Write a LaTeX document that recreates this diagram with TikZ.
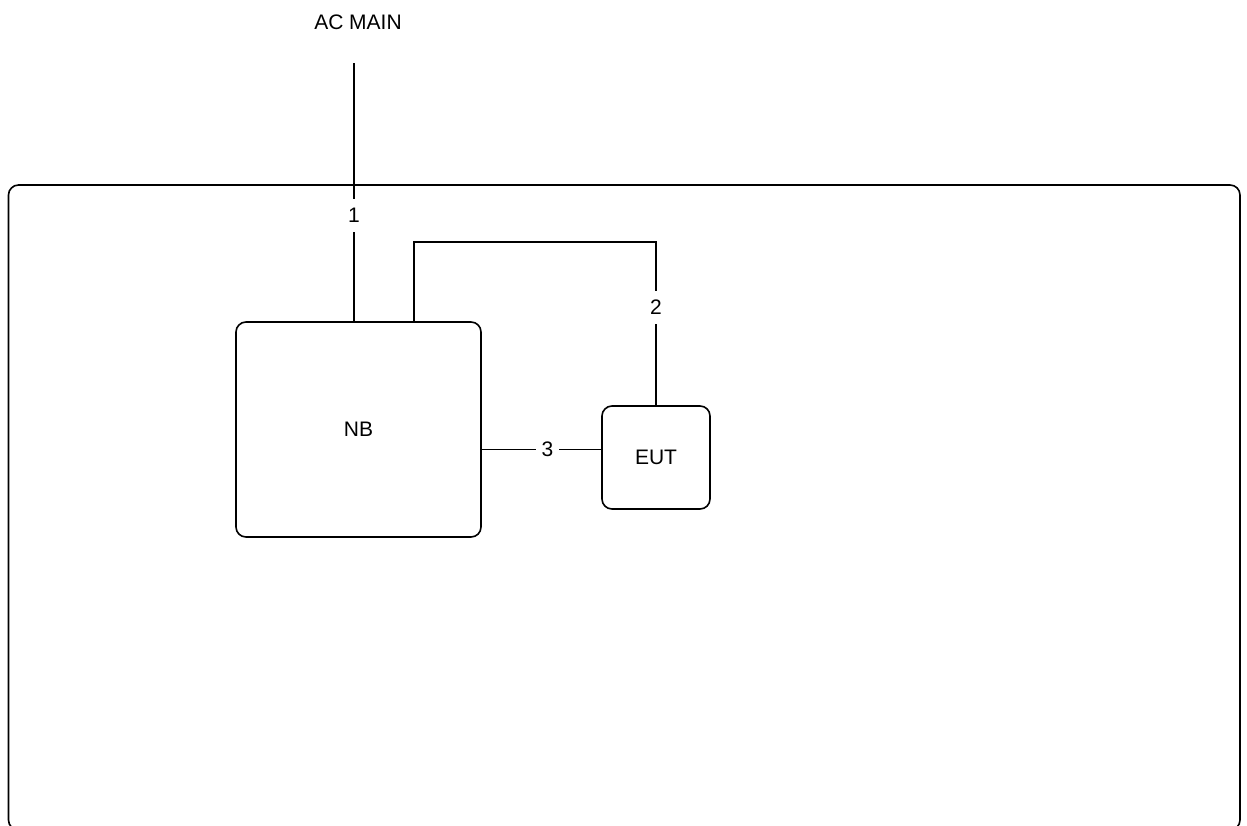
\documentclass[tikz,border=0pt]{standalone}
\usepackage{fontspec}
\setmainfont{Liberation Sans}
\usepackage{tikz}

\begin{document}
\begin{tikzpicture}[x=1pt, y=-1pt, line width=1.6pt,
  box/.style={draw, rounded corners=10pt, font=\fontsize{21}{24}\selectfont},
  lbl/.style={fill=white, inner xsep=6pt, inner ysep=9pt, font=\fontsize{21}{24}\selectfont}]
\useasboundingbox (0,0) rectangle (1247,825);
\draw[rounded corners=10pt] (8.5,185) rectangle (1240,830);
\node[font=\fontsize{21}{24}\selectfont] (AC) at (358,22) {AC MAIN};
\coordinate (acin) at (354,63);
\node[box, minimum width=245pt, minimum height=215pt] (NB) at (358.5,429.5) {NB};
\node[box, minimum width=108pt, minimum height=103pt] (EUT) at (656,457.5) {EUT};
\coordinate (bend) at (414,242);
\coordinate (p3) at ([yshift=8pt]EUT.west);
\draw (acin) -- node[lbl, pos=0.59] {1} (acin |- NB.north);
\draw (bend |- NB.north) -- (bend) -| node[lbl, pos=0.7] {2} (EUT.north);
\draw (p3) -- node[lbl, pos=0.45] {3} (p3 -| NB.east);
\end{tikzpicture}
\end{document}
